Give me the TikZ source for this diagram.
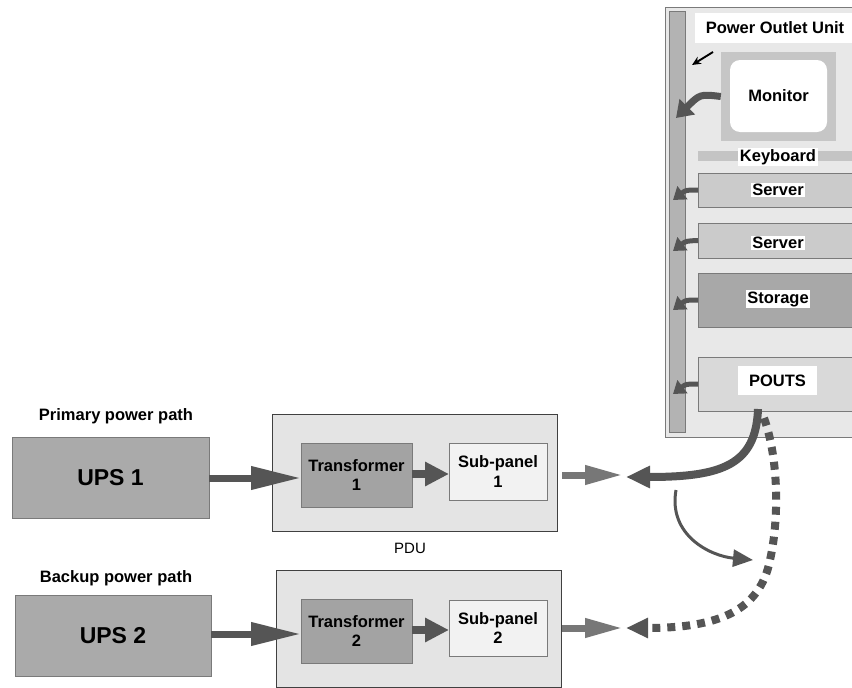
\documentclass[tikz,border=0pt]{standalone}
\usepackage{fontspec}
\setmainfont{Liberation Sans}
\usetikzlibrary{arrows.meta}
\definecolor{edgegray}{HTML}{7A7A7A}
\definecolor{upsfill}{HTML}{AAAAAA}
\definecolor{trfill}{HTML}{A3A3A3}
\definecolor{pdufill}{HTML}{E4E4E4}
\definecolor{spfill}{HTML}{F2F2F2}
\definecolor{arrowgray}{HTML}{555555}
\definecolor{outgray}{HTML}{777777}
\definecolor{rackfill}{HTML}{E8E8E8}
\definecolor{barfill}{HTML}{B3B3B3}
\definecolor{srvfill}{HTML}{CBCBCB}
\definecolor{stofill}{HTML}{A8A8A8}
\definecolor{poutsfill}{HTML}{D9D9D9}
\definecolor{monfill}{HTML}{C6C6C6}
\definecolor{kbfill}{HTML}{C4C4C4}
\begin{document}
\begin{tikzpicture}[x=1pt,y=-1pt,
  lbl/.style={font=\bfseries\fontsize{16.5}{19.5}\selectfont},
  blk/.style={draw=edgegray, line width=0.8pt, inner sep=0pt, outer sep=0pt, align=center, lbl},
  pdubox/.style={blk, draw=black!75, fill=pdufill},
  tag/.style={fill=white, inner sep=1.5pt, lbl},
  bigarrow/.style={draw=arrowgray, line width=7pt, -{Triangle[length=50pt,width=22pt]}},
  midarrow/.style={draw=arrowgray, line width=8pt, -{Triangle[length=24pt,width=23pt]}},
  outarrow/.style={draw=outgray, line width=7pt, -{Triangle[length=38pt,width=18pt]}},
  podarrow/.style={draw=arrowgray, line width=5pt, -{Triangle[length=12pt,width=16pt]}},
  pathcurve/.style={draw=arrowgray, line width=8pt, -{Triangle[length=24pt,width=21pt]}},
  dashcurve/.style={draw=arrowgray, line width=8pt, dash pattern=on 8pt off 7pt, -{Triangle[length=22pt,width=19pt]}},
  thincurve/.style={draw=arrowgray, line width=3pt, -{Triangle[length=20pt,width=17pt]}}
]
\useasboundingbox (0,0) rectangle (852,688);

% ---------------- Power outlet unit (rack) ----------------
\node[blk, fill=rackfill, minimum width=190pt, minimum height=430pt] (rack) at (760,222) {};
\node[blk, fill=barfill, minimum width=16pt, minimum height=421pt] (bar) at (677,221.5) {};
\node[fill=white, inner sep=0pt, minimum width=160pt, minimum height=30pt, lbl] (title) at (775,28) {Power Outlet Unit};

\node[fill=monfill, inner sep=0pt, minimum width=115pt, minimum height=89pt] (monout) at (778.5,96.5) {};
\node[fill=white, rounded corners=10pt, inner sep=0pt, minimum width=97pt, minimum height=72pt, lbl] (monitor) at (778.5,96) {Monitor};

\node[fill=kbfill, inner sep=0pt, minimum width=156pt, minimum height=10pt] (kbbar) at (776,156) {};
\node[tag] (kb) at (778,157) {Keyboard};

\node[blk, fill=srvfill, minimum width=156pt, minimum height=34pt] (srv1) at (776,190) {};
\node[tag] (srv1t) at (778,190) {Server};
\node[blk, fill=srvfill, minimum width=156pt, minimum height=35pt] (srv2) at (776,240.5) {};
\node[tag] (srv2t) at (778,243) {Server};
\node[blk, fill=stofill, minimum width=156pt, minimum height=54pt] (sto) at (776,300) {};
\node[tag] (stot) at (778,299) {Storage};
\node[blk, fill=poutsfill, minimum width=156pt, minimum height=54pt] (pouts) at (776,384) {};
\node[fill=white, inner sep=0pt, minimum width=79pt, minimum height=29pt, lbl] (poutst) at (777.5,380.5) {POUTS};

% arrows from devices to the bar
\coordinate (monend) at (676,118);
\coordinate (s1end) at (673,200);
\coordinate (s2end) at (673,251);
\coordinate (stend) at (673,310);
\coordinate (poend) at (673,394);
\draw[draw=arrowgray, line width=7pt, -{Triangle[length=16pt,width=21pt]}] (monout.west) .. controls (700,94) .. (monend);
\draw[podarrow] (srv1.west) .. controls (686,190) .. (s1end);
\draw[podarrow] (srv2.west) .. controls (686,241) .. (s2end);
\draw[podarrow] (sto.west) .. controls (686,300) .. (stend);
\draw[podarrow] (pouts.west) .. controls (686,384) .. (poend);

\coordinate (bs) at (713,52);
\coordinate (be) at (692,65);
\draw[black, line width=1.9pt, -{Stealth[length=9pt,width=8pt]}] (bs) -- (be);

% ---------------- UPS and PDU ----------------
\node[lbl] (primary) at (116,416) {Primary power path};
\node[lbl] (backup) at (116,578) {Backup power path};
\node[blk, fill=upsfill, minimum width=197pt, minimum height=81pt, font=\bfseries\fontsize{23}{27}\selectfont] (ups1) at (110.5,477.5) {UPS 1};
\node[blk, fill=upsfill, minimum width=196pt, minimum height=81pt, font=\bfseries\fontsize{23}{27}\selectfont] (ups2) at (113,635.5) {UPS 2};

\node[pdubox, minimum width=285pt, minimum height=117pt] (pdu1) at (414.5,472.5) {};
\node[pdubox, minimum width=285pt, minimum height=117pt] (pdu2) at (418.5,628.5) {};
\node[font=\fontsize{15}{18}\selectfont] (pdul) at (410,548) {PDU};

\node[blk, fill=trfill, minimum width=111pt, minimum height=64pt] (tr1) at (356.5,475) {Transformer\\1};
\node[blk, fill=spfill, minimum width=98pt, minimum height=57pt] (sp1) at (498,471.5) {Sub-panel\\1};
\node[blk, fill=trfill, minimum width=111pt, minimum height=64pt] (tr2) at (356.5,631) {Transformer\\2};
\node[blk, fill=spfill, minimum width=98pt, minimum height=56pt] (sp2) at (498,628) {Sub-panel\\2};

\draw[bigarrow] (ups1.east |- 0,478) -- (tr1.west |- 0,478);
\draw[bigarrow] (ups2.east |- 0,634) -- (tr2.west |- 0,634);
\draw[midarrow] (tr1.east |- 0,474) -- (sp1.west |- 0,474);
\draw[midarrow] (tr2.east |- 0,630) -- (sp2.west |- 0,630);

\coordinate (o1) at (562,475);
\coordinate (t1) at (623,475);
\coordinate (o2) at (562,628);
\coordinate (t2) at (623,628);
\draw[outarrow] (o1) -- (t1);
\draw[outarrow] (o2) -- (t2);

% ---------------- curves from POUTS ----------------
\coordinate (ps) at (758,409);
\coordinate (pe) at (626,477);
\draw[pathcurve] (ps) .. controls (756,465) and (722,477) .. (pe);

\coordinate (ds) at (764,418);
\coordinate (dm) at (770,560);
\coordinate (de) at (626,628);
\draw[dashcurve] (ds) .. controls (779,460) and (779,520) .. (dm) .. controls (760,610) and (720,628) .. (de);

\coordinate (cs) at (676,490);
\coordinate (ce) at (753,560);
\draw[thincurve] (cs) .. controls (668,535) and (710,556) .. (ce);
\end{tikzpicture}
\end{document}
